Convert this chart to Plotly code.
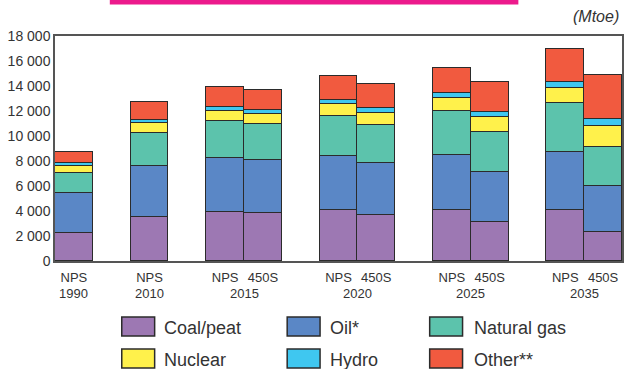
import plotly.graph_objects as go

# ---------------- data (Mtoe) ----------------
years = ["1990", "2010", "2015", "2015", "2020", "2020", "2025", "2025", "2035", "2035"]
scenarios = ["NPS", "NPS", "NPS", "450S", "NPS", "450S", "NPS", "450S", "NPS", "450S"]
coal = [2210, 3500, 3925, 3820, 4060, 3720, 4060, 3100, 4060, 2285]
oil = [3230, 4090, 4350, 4275, 4380, 4160, 4460, 4060, 4670, 3685]
gas = [1620, 2680, 2920, 2890, 3180, 3000, 3450, 3160, 3920, 3185]
nuclear = [550, 740, 800, 770, 955, 980, 1035, 1220, 1195, 1670]
hydro = [220, 240, 320, 340, 340, 400, 430, 420, 455, 500]
other = [930, 1460, 1590, 1615, 1865, 1935, 2040, 2365, 2650, 3535]

series_names = ["Coal/peat", "Oil*", "Natural gas", "Nuclear", "Hydro", "Other**"]
series_values = [coal, oil, gas, nuclear, hydro, other]
series_colors = ["#9D78B3", "#5A87C6", "#5CC3AC", "#FFF14B", "#3FC7F0", "#F15A3F"]

y_ticks = [0, 2000, 4000, 6000, 8000, 10000, 12000, 14000, 16000, 18000]
unit_label = "(Mtoe)"

# ---------------- slot layout: bars of a year side by side, one empty slot between years ----------------
positions = []
group_centers = {}
slot = 0
prev = None
for i, yr in enumerate(years):
    if prev is not None and yr != prev:
        slot += 1  # gap slot
    positions.append(slot)
    group_centers.setdefault(yr, []).append(slot)
    prev = yr
    slot += 1
n_slots = slot

W, H = 625, 369
ML, MR, MT, MB = 55, 1, 36, 108
PW, PH = W - ML - MR, H - MT - MB

FONT = "Liberation Sans, Arial, sans-serif"
TXT = "#333333"


def px_x(px):
    return (px - ML) / PW


def px_y(py):
    return (H - MB - py) / PH


fig = go.Figure()
for name, vals, col in zip(series_names, series_values, series_colors):
    fig.add_trace(go.Bar(
        x=positions, y=vals, name=name, width=1.0,
        marker=dict(color=col, line=dict(color="#2b2b2b", width=1.5)),
        showlegend=False, hoverinfo="skip",
    ))

# year labels under each group
annotations = []
for yr, slots in group_centers.items():
    annotations.append(dict(
        x=sum(slots) / len(slots), y=px_y(293), xref="x", yref="paper",
        text=yr, showarrow=False, xanchor="center", yanchor="middle",
        font=dict(family=FONT, size=13, color=TXT),
    ))

# unit label
annotations.append(dict(
    x=px_x(623), y=px_y(17), xref="paper", yref="paper", text="<i>" + unit_label + "</i>",
    showarrow=False, xanchor="right", yanchor="middle",
    font=dict(family=FONT, size=16, color=TXT),
))

# manual legend (large swatches)
shapes = []
col_sw = [122, 288, 431]
col_tx = [162, 329, 473]
row_y = [326.5, 358.5]
sw_w, sw_h = 33, 19
for k, (name, col) in enumerate(zip(series_names, series_colors)):
    r, c = divmod(k, 3)
    cy = row_y[r]
    shapes.append(dict(
        type="rect", xref="paper", yref="paper",
        x0=px_x(col_sw[c]), x1=px_x(col_sw[c] + sw_w),
        y0=px_y(cy - sw_h / 2), y1=px_y(cy + sw_h / 2),
        fillcolor=col, line=dict(color="#2b2b2b", width=1.5),
    ))
    annotations.append(dict(
        x=px_x(col_tx[c]), y=px_y(cy + 1), xref="paper", yref="paper",
        text=name, showarrow=False, xanchor="left", yanchor="middle",
        font=dict(family=FONT, size=18, color=TXT),
    ))

# magenta title bar remnant at the very top
shapes.append(dict(
    type="rect", xref="paper", yref="paper",
    x0=px_x(110), x1=px_x(520), y0=px_y(4.5), y1=px_y(-2),
    fillcolor="#EC1A8C", line=dict(width=0),
))

fig.update_layout(
    width=W, height=H,
    margin=dict(l=ML, r=MR, t=MT, b=MB),
    barmode="stack", bargap=0,
    paper_bgcolor="white", plot_bgcolor="white",
    separators=". ",
    annotations=annotations, shapes=shapes,
    showlegend=False,
)
fig.update_xaxes(
    range=[-0.5, n_slots - 0.5],
    tickvals=positions, ticktext=scenarios, ticks="",
    ticklabelstandoff=4,
    tickfont=dict(family=FONT, size=13, color=TXT),
    showline=True, linecolor="#555555", linewidth=1.5, mirror=True,
    showgrid=False, zeroline=False,
)
fig.update_yaxes(
    range=[0, 18000], tickvals=y_ticks, tickformat=",d", ticks="",
    tickfont=dict(family=FONT, size=14, color=TXT),
    showline=True, linecolor="#555555", linewidth=1.5, mirror=True,
    showgrid=False, zeroline=False,
)

fig.write_html(
    "out.html",
    config={"displayModeBar": False},
    post_script="document.body.style.margin='0';document.body.style.overflow='hidden';",
)
